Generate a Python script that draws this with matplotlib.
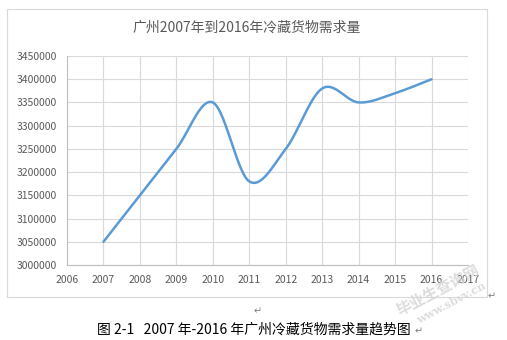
import numpy as np
import matplotlib.pyplot as plt
from matplotlib.patches import Rectangle

plt.rcParams['font.family'] = ['Noto Sans CJK SC', 'DejaVu Sans']

# 广州冷藏货物需求量（吨）
years = [2007, 2008, 2009, 2010, 2011, 2012, 2013, 2014, 2015, 2016]
demand = [3050000, 3150000, 3250000, 3350000, 3180000, 3250000, 3380000, 3350000, 3370000, 3400000]
xticks = list(range(2006, 2018))
yticks = list(range(3000000, 3450001, 50000))


def smooth_line(x, y, n=30):
    # Excel-style smoothed line: cubic Bezier segments with Catmull-Rom control points
    x = np.asarray(x, float)
    y = np.asarray(y, float)
    px = np.concatenate([[x[0]], x, [x[-1]]])
    py = np.concatenate([[y[0]], y, [y[-1]]])
    xs, ys = [], []
    t = np.linspace(0, 1, n)
    for i in range(1, len(px) - 2):
        p0 = np.array([px[i], py[i]])
        p3 = np.array([px[i + 1], py[i + 1]])
        p1 = p0 + (np.array([px[i + 1], py[i + 1]]) - np.array([px[i - 1], py[i - 1]])) / 6
        p2 = p3 - (np.array([px[i + 2], py[i + 2]]) - np.array([px[i], py[i]])) / 6
        b = ((1 - t) ** 3)[:, None] * p0 + (3 * (1 - t) ** 2 * t)[:, None] * p1 \
            + (3 * (1 - t) * t ** 2)[:, None] * p2 + (t ** 3)[:, None] * p3
        xs.extend(b[:, 0])
        ys.extend(b[:, 1])
    return xs, ys


fig = plt.figure(figsize=(5.07, 3.4), dpi=100)
fig.patch.set_facecolor('white')

# 图表外框
fig.patches.append(Rectangle((7 / 507, 1 - 297 / 340), 480 / 507, 288 / 340,
                             transform=fig.transFigure, fill=False,
                             edgecolor='#d9d9d9', linewidth=0.8))

ax = fig.add_axes([67 / 507, 1 - 265 / 340, 401 / 507, 209 / 340])
sx, sy = smooth_line(years, demand)
ax.plot(sx, sy, color='#5b9bd5', linewidth=1.8, solid_capstyle='round')

ax.set_xlim(2006, 2017)
ax.set_ylim(3000000, 3450000)
ax.set_xticks(xticks)
ax.set_yticks(yticks)
ax.set_xticklabels([str(v) for v in xticks])
ax.set_yticklabels([str(v) for v in yticks])
ax.grid(True, color='#d9d9d9', linewidth=0.8)
ax.set_axisbelow(True)
for s in ['top', 'right']:
    ax.spines[s].set_visible(False)
ax.spines['left'].set_color('#bfbfbf')
ax.spines['bottom'].set_color('#bfbfbf')
ax.tick_params(length=0, labelsize=7.5, labelcolor='#595959', pad=7)

fig.text(247 / 507, 1 - 28 / 340, '广州2007年到2016年冷藏货物需求量', ha='center', va='center',
         fontsize=10, color='#595959')

# 图题
fig.text(254 / 507, 1 - 330 / 340, '图 2-1   2007 年-2016 年广州冷藏货物需求量趋势图',
         ha='center', va='center', fontsize=10, color='black', weight='medium')
fig.text(258 / 507, 1 - 311 / 340, '↵', ha='center', va='center', fontsize=7,
         color='#808080', family=['DejaVu Sans'])
fig.text(492 / 507, 1 - 296 / 340, '↵', ha='center', va='center', fontsize=7,
         color='#808080', family=['DejaVu Sans'])
fig.text(419 / 507, 1 - 331 / 340, '↵', ha='center', va='center', fontsize=7,
         color='#808080', family=['DejaVu Sans'])

# 水印
fig.text(438 / 507, 1 - 290 / 340, '毕业生查询网', ha='center', va='center', rotation=28,
         fontsize=11, color='#d4d4d4', weight='bold', alpha=0.8)
fig.text(451 / 507, 1 - 303 / 340, 'www.sbvv.cn', ha='center', va='center', rotation=28,
         fontsize=8, color='#d4d4d4', weight='bold', alpha=0.8, family=['DejaVu Serif'])

fig.savefig('out.png', dpi=100)
